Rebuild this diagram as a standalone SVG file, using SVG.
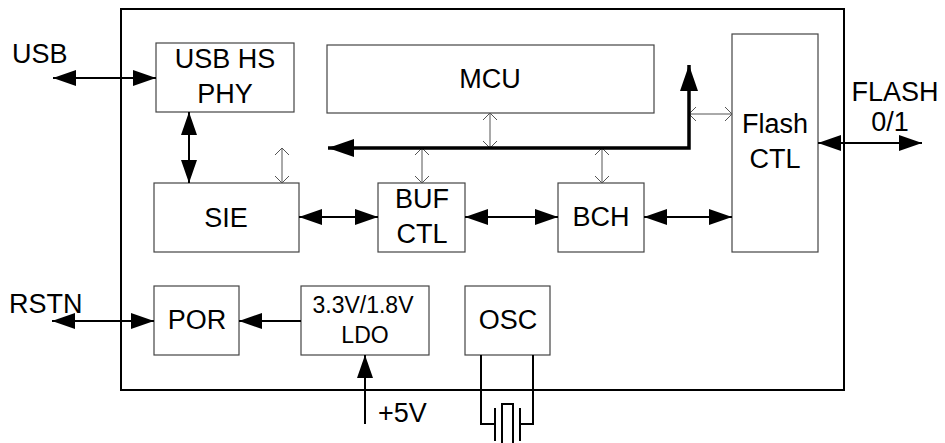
<svg xmlns="http://www.w3.org/2000/svg" width="945" height="443" viewBox="0 0 945 443">
<defs>
<style>
.box{fill:#fff;stroke:#444;stroke-width:1.2}
.t{font-family:"Liberation Sans",Arial,sans-serif;font-size:27px;fill:#000;text-anchor:middle}
.s{font-size:23px}
.w{stroke:#000;stroke-width:2;fill:none}
.n{stroke:#555;stroke-width:1;fill:none}
</style>
<marker id="a" markerUnits="userSpaceOnUse" markerWidth="24" markerHeight="16" refX="23" refY="8" orient="auto-start-reverse"><path d="M0,0 L23,8 L0,16 z" fill="#000"/></marker>
<marker id="b" markerUnits="userSpaceOnUse" markerWidth="27" markerHeight="18" refX="26" refY="9" orient="auto-start-reverse"><path d="M0,0 L26,9 L0,18 z" fill="#000"/></marker>
<marker id="o" markerUnits="userSpaceOnUse" markerWidth="8" markerHeight="14" refX="7" refY="7" orient="auto-start-reverse"><path d="M0,0 L7,7 L0,14" fill="none" stroke="#555" stroke-width="1"/></marker>
</defs>
<rect x="121" y="9" width="723" height="381" fill="none" stroke="#000" stroke-width="2"/>
<g id="phy"><rect class="box" x="156" y="43" width="138" height="69"/><text class="t" x="225" y="68">USB HS</text><text class="t" x="225" y="103">PHY</text></g>
<g id="sie"><rect class="box" x="154" y="183" width="145" height="69"/><text class="t" x="226" y="227">SIE</text></g>
<g id="mcu"><rect class="box" x="327" y="45" width="327" height="68"/><text class="t" x="490" y="88">MCU</text></g>
<g id="buf"><rect class="box" x="378" y="183" width="87" height="69"/><text class="t" x="422" y="208">BUF</text><text class="t" x="422" y="243">CTL</text></g>
<g id="bch"><rect class="box" x="558" y="183" width="86" height="69"/><text class="t" x="601" y="226">BCH</text></g>
<g id="flash"><rect class="box" x="732" y="34" width="86" height="218"/><text class="t" x="775" y="133">Flash</text><text class="t" x="775" y="168">CTL</text></g>
<g id="por"><rect class="box" x="154" y="286" width="85" height="69"/><text class="t" x="197" y="329">POR</text></g>
<g id="ldo"><rect class="box" x="301" y="286" width="128" height="69"/><text class="t s" x="363" y="313">3.3V/1.8V</text><text class="t s" x="365" y="343">LDO</text></g>
<g id="osc"><rect class="box" x="465" y="286" width="85" height="69"/><text class="t" x="508" y="329">OSC</text></g>
<g id="labels">
<text class="t" x="12" y="63" style="text-anchor:start">USB</text>
<text class="t" x="9" y="313" style="text-anchor:start">RSTN</text>
<text class="t" x="895" y="101">FLASH</text>
<text class="t" x="890" y="131">0/1</text>
<text class="t" x="378" y="422" style="text-anchor:start">+5V</text>
</g>
<g id="connectors">
<line class="w" x1="53" y1="78" x2="156" y2="78" marker-start="url(#a)" marker-end="url(#a)"/>
<line class="w" x1="189" y1="112" x2="189" y2="183" marker-start="url(#a)" marker-end="url(#a)"/>
<line class="n" x1="282" y1="148" x2="282" y2="183" marker-start="url(#o)" marker-end="url(#o)"/>
<line class="n" x1="490" y1="113" x2="490" y2="148" marker-start="url(#o)" marker-end="url(#o)"/>
<line class="n" x1="422" y1="148" x2="422" y2="183" marker-start="url(#o)" marker-end="url(#o)"/>
<line class="n" x1="602" y1="148" x2="602" y2="183" marker-start="url(#o)" marker-end="url(#o)"/>
<line class="n" x1="689" y1="114" x2="732" y2="114" marker-start="url(#o)" marker-end="url(#o)"/>
<path d="M328,148 H689 V65" fill="none" stroke="#000" stroke-width="3.5" marker-start="url(#b)" marker-end="url(#b)"/>
<line class="w" x1="299" y1="217" x2="378" y2="217" marker-start="url(#a)" marker-end="url(#a)"/>
<line class="w" x1="465" y1="217" x2="558" y2="217" marker-start="url(#a)" marker-end="url(#a)"/>
<line class="w" x1="644" y1="217" x2="732" y2="217" marker-start="url(#a)" marker-end="url(#a)"/>
<line class="w" x1="818" y1="143" x2="922" y2="143" marker-start="url(#a)" marker-end="url(#a)"/>
<line class="w" x1="52" y1="321" x2="154" y2="321" marker-start="url(#a)" marker-end="url(#a)"/>
<line class="w" x1="301" y1="321" x2="239" y2="321" marker-end="url(#a)"/>
<line class="w" x1="365" y1="424" x2="365" y2="355" marker-end="url(#a)"/>
<path class="w" d="M481,355 V424 H495 M533,355 V424 H520"/>
<path class="w" d="M495,408 V441 M520,408 V441"/>
<rect x="502" y="404" width="11" height="44" fill="none" stroke="#000" stroke-width="2"/>
</g>
</svg>
